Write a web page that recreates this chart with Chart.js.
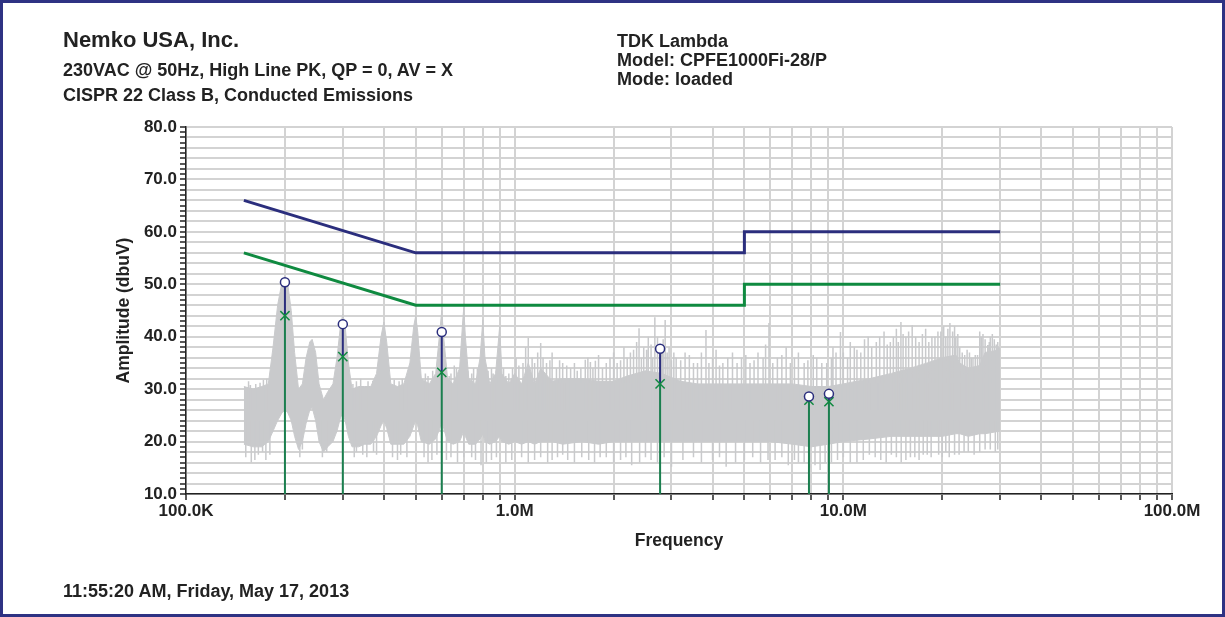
<!DOCTYPE html>
<html>
<head>
<meta charset="utf-8">
<script src="https://cdn.jsdelivr.net/npm/chart.js@4.4.0/dist/chart.umd.min.js"></script>
<style>
  html, body { margin: 0; padding: 0; background: #fff; }
  #page { position: relative; width: 1225px; height: 617px; overflow: hidden;
          font-family: "Liberation Sans", Arial, sans-serif; font-weight: bold; color: #222; }
  #page canvas { position: absolute; left: 0; top: 0; }
  #frame { position: absolute; left: 0; top: 0; width: 1225px; height: 617px; box-sizing: border-box;
           border: 3px solid #2e3283; pointer-events: none; }
  .t { position: absolute; white-space: nowrap; font-size: 18px; line-height: 18px; }
</style>
</head>
<body>
<div id="page">
  <canvas id="emc" width="1225" height="617"></canvas>
  <div class="t" style="left:63px;top:29px;font-size:22px;line-height:22px;">Nemko USA, Inc.</div>
  <div class="t" style="left:63px;top:61px;">230VAC @ 50Hz, High Line PK, QP = 0, AV = X</div>
  <div class="t" style="left:63px;top:86px;">CISPR 22 Class B, Conducted Emissions</div>
  <div class="t" style="left:617px;top:32px;">TDK Lambda</div>
  <div class="t" style="left:617px;top:51px;">Model: CPFE1000Fi-28/P</div>
  <div class="t" style="left:617px;top:70px;">Mode: loaded</div>
  <div class="t" style="left:63px;top:582px;">11:55:20 AM, Friday, May 17, 2013</div>
  <div id="frame"></div>
</div>
<script>
// limit lines (MHz, dBuV)
const limitFreq = [0.15, 0.5, 5, 5, 30];
const qpLimit = [66, 56, 56, 60, 60];
const avLimit = [56, 46, 46, 50, 50];

// measured markers
const markerFreq = [0.2, 0.3, 0.6, 2.77, 7.86, 9.04];
const peakValues = [50.4, 42.4, 40.9, 37.7, 28.6, 29.1];
const avgValues = [44.0, 36.2, 33.2, 31.0, 27.9, 27.6];

// peak scan, dense part of the trace (MHz, top, bottom)
const noiseFreq = [0.150, 0.160, 0.170, 0.178, 0.184, 0.190, 0.196, 0.200, 0.204, 0.209, 0.214, 0.220,
  0.226, 0.232, 0.238, 0.242, 0.248, 0.254, 0.262, 0.270, 0.280, 0.288, 0.295, 0.300, 0.305, 0.312,
  0.320, 0.335, 0.350, 0.365, 0.380, 0.392, 0.400, 0.408, 0.420, 0.440, 0.460, 0.480, 0.493, 0.500,
  0.507, 0.520, 0.550, 0.575, 0.592, 0.600, 0.608, 0.625, 0.650, 0.680, 0.695, 0.700, 0.708, 0.725,
  0.760, 0.785, 0.800, 0.812, 0.840, 0.875, 0.900, 0.915, 0.960, 1.00, 1.05, 1.10, 1.15, 1.20, 1.30,
  1.40, 1.60, 1.80, 2.00, 2.20, 2.50, 2.80, 3.20, 3.60, 4.00, 5.00, 6.00, 7.00, 8.00, 9.00, 10.0,
  12.0, 14.0, 16.0, 18.0, 20.0, 22.0, 22.6, 24.0, 26.0, 27.0, 30.0];
const noiseHigh = [30.5, 30, 30.5, 31, 38, 46, 50.5, 51.5, 50, 45, 37, 30,
  31, 36, 39, 39.5, 37, 31, 28, 29.5, 31, 36, 42, 44.3, 42, 35,
  30, 30.5, 30.5, 30.5, 33, 40, 42.8, 39, 31, 30.5, 31, 35, 42, 44,
  41, 32, 31, 33, 41, 45, 40, 32, 31, 34, 43, 45.5, 40, 32,
  31, 36, 43.2, 36, 31, 33, 41.9, 33, 31, 33, 31, 35, 31, 34, 31.5,
  32, 32, 31.5, 31.5, 32.5, 33.5, 33, 31.5, 31, 31, 31, 31, 31, 30.5, 30.5, 31,
  32, 33, 34, 35, 36, 36.5, 35, 34, 34.5, 37, 37.5];
const noiseLow = [19.5, 19, 19, 20, 22, 24, 25.5, 26, 25.5, 24, 21, 18.5,
  20, 23.5, 26, 26.5, 24, 20, 18, 19, 20, 22, 24.5, 25.5, 24, 21,
  19, 19, 19.5, 19.5, 21, 23, 24, 22.5, 19.5, 19.5, 19.5, 21, 23, 24,
  23, 20, 19.5, 20.5, 22.5, 24, 22.5, 20, 19.5, 20, 21.5, 22, 21, 19.5,
  19.5, 20.5, 21.5, 20, 19.5, 20, 21, 20, 19.5, 20, 19.5, 20, 19.5, 20, 20,
  19.5, 20, 19.5, 20, 20, 20, 20, 20, 20, 20, 20, 20, 19.5, 19, 19.5, 20,
  20.5, 21, 21, 21, 21, 21.5, 21.5, 21, 21.5, 21.5, 22];

// single spikes above the dense part (MHz, dBuV)
const spikeFreq = [0.155, 0.163, 0.172, 0.330, 0.358, 0.430, 0.455, 0.535, 0.563, 0.640, 0.665, 0.740,
  0.770, 0.860, 0.940, 0.985, 1.01, 1.08, 1.10, 1.13, 1.175, 1.20, 1.25, 1.30, 1.34, 1.40, 1.48,
  1.55, 1.64, 1.70, 1.76, 1.85, 1.95, 2.05, 2.15, 2.25, 2.39, 2.47, 2.55, 2.67, 2.87, 2.95, 3.10,
  3.30, 3.50, 3.82, 4.00, 4.30, 4.60, 4.90, 5.20, 5.50, 5.94, 6.30, 6.70, 7.10, 7.60, 8.30, 8.90,
  9.50, 9.80, 10.3, 10.8, 11.3, 11.9, 12.6, 13.3, 13.9, 14.5, 14.97, 15.5, 16.2, 17.0, 17.8, 18.6,
  19.4, 20.2, 20.8, 21.1, 21.8, 22.3, 23.0, 23.8, 24.5, 25.2, 26.0, 26.6, 27.5, 28.0, 28.8, 29.5,
  0.157, 0.168, 0.176, 0.322, 0.340, 0.370, 0.445, 0.470, 0.545, 0.580, 0.632, 0.655, 0.720, 0.750,
  0.830, 0.850, 0.880, 0.925, 0.960, 1.03, 1.06, 1.15, 1.22, 1.28, 1.37, 1.44, 1.52, 1.59, 1.67,
  1.73, 1.80, 1.90, 2.00, 2.10, 2.20, 2.30, 2.35, 2.43, 2.52, 2.60, 2.63, 2.72, 2.80, 2.83, 2.91,
  3.00, 3.05, 3.20, 3.40, 3.60, 3.70, 3.90, 4.10, 4.20, 4.45, 4.75, 5.05, 5.35, 5.70, 5.80, 6.10,
  6.50, 6.90, 7.30, 7.80, 8.10, 8.60, 9.20, 9.30, 10.0, 10.5, 11.0, 11.6, 12.2, 12.9, 13.6, 14.2,
  14.7, 15.2, 15.8, 16.6, 17.4, 18.2, 19.0, 19.8, 20.5, 21.5, 22.0, 22.6, 23.4, 24.2, 24.8, 25.6,
  26.3, 27.0, 27.8, 28.4, 29.2, 29.8];
const spikeTop = [31.5, 31, 31.8, 31.5, 31.5, 31.8, 32, 33, 33.5, 33, 34, 33,
  34, 33, 32.5, 34, 36, 38, 39.8, 36, 37, 38.8, 35, 37, 34, 35, 34,
  33.5, 35.6, 35.2, 35.4, 34, 36, 35, 38, 37, 41.6, 38, 40, 43.7, 43.2, 38, 36,
  37, 35, 41.3, 36, 35, 37, 36, 35, 37, 42.6, 36, 38, 36, 35, 36, 35,
  37, 40.9, 36, 38, 37, 40, 39, 41, 39, 41.5, 42.8, 40, 42.2, 39, 41.5, 40,
  41, 42, 41.5, 42.6, 42, 40.5, 37, 37.5, 36, 36.5, 41, 40.5, 38.4, 40, 39.5, 39,
  30.8, 31.2, 32, 31, 32, 31.6, 31.5, 32.5, 32.5, 33, 32.5, 34.5, 33.5, 34,
  33.5, 34, 33.5, 34, 33, 34.5, 35, 35, 36, 35.5, 35.5, 34.5, 35, 34, 36,
  34, 36.5, 35, 37, 35.5, 36, 37.5, 39, 36, 37.5, 38.5, 36, 40, 37, 39.5, 37,
  35.5, 37, 35.5, 36.5, 35, 37, 35, 37.5, 34.5, 36, 35, 36.5, 35.5, 36, 38.5, 35,
  36.5, 35, 37, 35.5, 36.5, 35, 36, 38, 37, 39, 37.5, 39.5, 38, 40, 38.5, 40,
  39, 40.5, 41, 40, 40.5, 39, 40, 41, 40, 41, 40, 38, 36.5, 37, 36, 36.5,
  40, 39.5, 39, 40.5, 38.5, 38];

// single spikes below the dense part (MHz, dBuV)
const dipFreq = [0.152, 0.158, 0.166, 0.175, 0.222, 0.226, 0.260, 0.268, 0.325, 0.345, 0.372, 0.425,
  0.450, 0.530, 0.560, 0.640, 0.670, 0.740, 0.790, 0.850, 0.940, 1.05, 1.15, 1.26, 1.35, 1.45,
  1.60, 1.75, 1.90, 2.10, 2.27, 2.60, 2.85, 3.00, 3.50, 4.00, 4.40, 5.00, 5.60, 6.20, 6.80, 7.30,
  7.90, 8.50, 8.80, 9.60, 10.5, 11.5, 12.5, 13.5, 14.5, 15.5, 16.5, 17.5, 18.5, 19.5, 21.0, 22.5,
  24.0, 26.0, 28.0, 29.5,
  0.162, 0.171, 0.180, 0.330, 0.355, 0.380, 0.440, 0.470, 0.545, 0.580, 0.620, 0.700, 0.760, 0.820,
  0.880, 0.980, 1.10, 1.20, 1.30, 1.40, 1.52, 1.68, 1.82, 2.00, 2.18, 2.40, 2.50, 2.72, 3.25, 3.70,
  4.20, 4.70, 5.30, 5.90, 6.50, 7.10, 7.60, 8.20, 9.20, 10.0, 11.0, 12.0, 13.0, 14.0, 15.0, 16.0,
  17.0, 18.0, 20.0, 20.5, 21.8, 23.3, 25.0, 27.0, 29.0];
const dipBottom = [17, 16, 17.5, 16.5, 17, 18.5, 17, 18, 17, 17.5, 18, 17,
  17.5, 17, 16.5, 17, 16, 17, 15.5, 16.5, 16, 17, 16.5, 16, 17, 16.5,
  17, 16, 17, 16.5, 15.5, 16.5, 17, 15.2, 17, 16.5, 15.2, 16.5, 16, 16.5, 15.5, 16,
  15, 14.6, 16, 16.5, 16, 16.5, 17, 16, 17, 16.5, 17, 17.5, 17, 17.5, 17, 17.5,
  18, 18, 18.5, 18.5,
  16.5, 18, 17.5, 18, 17, 17.5, 16.5, 17, 16, 17.5, 16.5, 17, 16.5, 16,
  17, 16.5, 16, 17, 16.5, 17.5, 16, 16.5, 17, 16, 17, 16, 17, 16, 16.5, 16,
  17, 16, 17, 16.5, 17, 16.5, 16, 15.5, 16, 17, 16, 17.5, 16.5, 17.5, 16, 17,
  16.5, 17.5, 17, 18, 17.5, 18, 17.5, 18.5, 18];

// axis ticks
const xTickValues = [1e5, 1e6, 1e7, 1e8];
const xTickLabels = ['100.0K', '1.0M', '10.0M', '100.0M'];
const yTickValues = [10, 20, 30, 40, 50, 60, 70, 80];

const NAVY = '#2b2e7d';
const GREEN = '#0f8a40';
const STEM = '#1b7f4f';
const GRAY = '#c9cacc';

const xy = (fs, ys) => fs.map((f, i) => ({ x: f * 1e6, y: ys[i] }));
const verticals = (fs, from, to) => fs.flatMap((f, i) => [
  { x: f * 1e6, y: Array.isArray(from) ? from[i] : from },
  { x: f * 1e6, y: to[i] },
  { x: f * 1e6, y: null }
]);

const xGrid = [];
[1e5, 1e6, 1e7].forEach(d => { for (let m = 1; m <= 9; m++) xGrid.push(m * d); });
xGrid.push(1e8);

const tickFont = { family: '"Liberation Sans", Arial, sans-serif', size: 17, weight: 'bold' };

new Chart(document.getElementById('emc'), {
  type: 'line',
  data: {
    datasets: [
      { data: xy(markerFreq, peakValues), showLine: false, pointStyle: 'circle', pointRadius: 4.5,
        pointBackgroundColor: '#fff', pointBorderColor: NAVY, pointBorderWidth: 1.5, order: 0 },
      { data: xy(markerFreq, avgValues), showLine: false, pointStyle: 'crossRot', pointRadius: 6.5,
        pointBorderColor: GREEN, pointBorderWidth: 1.5, order: 0 },
      { data: verticals(markerFreq, avgValues, peakValues), borderColor: NAVY, borderWidth: 2, order: 1 },
      { data: verticals(markerFreq, 10, avgValues), borderColor: STEM, borderWidth: 2, order: 1 },
      { data: xy(limitFreq, qpLimit), borderColor: NAVY, borderWidth: 3, order: 2 },
      { data: xy(limitFreq, avLimit), borderColor: GREEN, borderWidth: 3, order: 2 },
      { data: verticals(spikeFreq, 26, spikeTop), borderColor: GRAY, borderWidth: 1.5, order: 3 },
      { data: verticals(dipFreq, 24, dipBottom), borderColor: GRAY, borderWidth: 1.5, order: 3 },
      { data: xy(noiseFreq, noiseLow), borderColor: GRAY, borderWidth: 1, order: 4 },
      { data: xy(noiseFreq, noiseHigh), borderColor: GRAY, borderWidth: 1, backgroundColor: GRAY,
        fill: '-1', order: 4 }
    ]
  },
  options: {
    responsive: false,
    animation: false,
    spanGaps: false,
    elements: { point: { radius: 0, hoverRadius: 0 }, line: { tension: 0, borderJoinStyle: 'miter' } },
    layout: { padding: { left: 100, top: 127, right: 53, bottom: 63 } },
    plugins: { legend: { display: false }, tooltip: { enabled: false } },
    events: [],
    scales: {
      x: {
        type: 'logarithmic',
        min: 1e5,
        max: 1e8,
        afterBuildTicks: s => { s.ticks = xGrid.map(v => ({ value: v })); },
        afterFit: s => { s.height = 60; },
        ticks: {
          autoSkip: false, maxRotation: 0, padding: 1, color: '#222', font: tickFont,
          callback: v => { const i = xTickValues.indexOf(v); return i >= 0 ? xTickLabels[i] : ''; }
        },
        grid: { color: '#d3d3d3', lineWidth: 2, tickColor: '#222', tickLength: 6, tickWidth: 1.5 },
        border: { color: '#222', width: 1.5 },
        title: { display: true, text: 'Frequency', color: '#222', font: { ...tickFont, size: 17.5 },
                 padding: { top: 0, bottom: 2.5 } }
      },
      y: {
        min: 10,
        max: 80,
        afterFit: s => { s.width = 86; },
        ticks: {
          stepSize: 1, autoSkip: false, padding: 3, color: '#222', font: tickFont,
          callback: v => yTickValues.includes(v) ? v.toFixed(1) : ''
        },
        grid: {
          color: c => c.tick && c.tick.value % 2 === 0 ? '#d3d3d3' : 'rgba(0,0,0,0)',
          lineWidth: 2, tickColor: '#222', tickLength: 6, tickWidth: 1.5
        },
        border: { color: '#222', width: 1.5 },
        title: { display: true, text: 'Amplitude (dbuV)', color: '#222', font: { ...tickFont, size: 17.5 },
                 padding: { top: 13.5, bottom: 0 } }
      }
    }
  }
});
</script>
</body>
</html>
